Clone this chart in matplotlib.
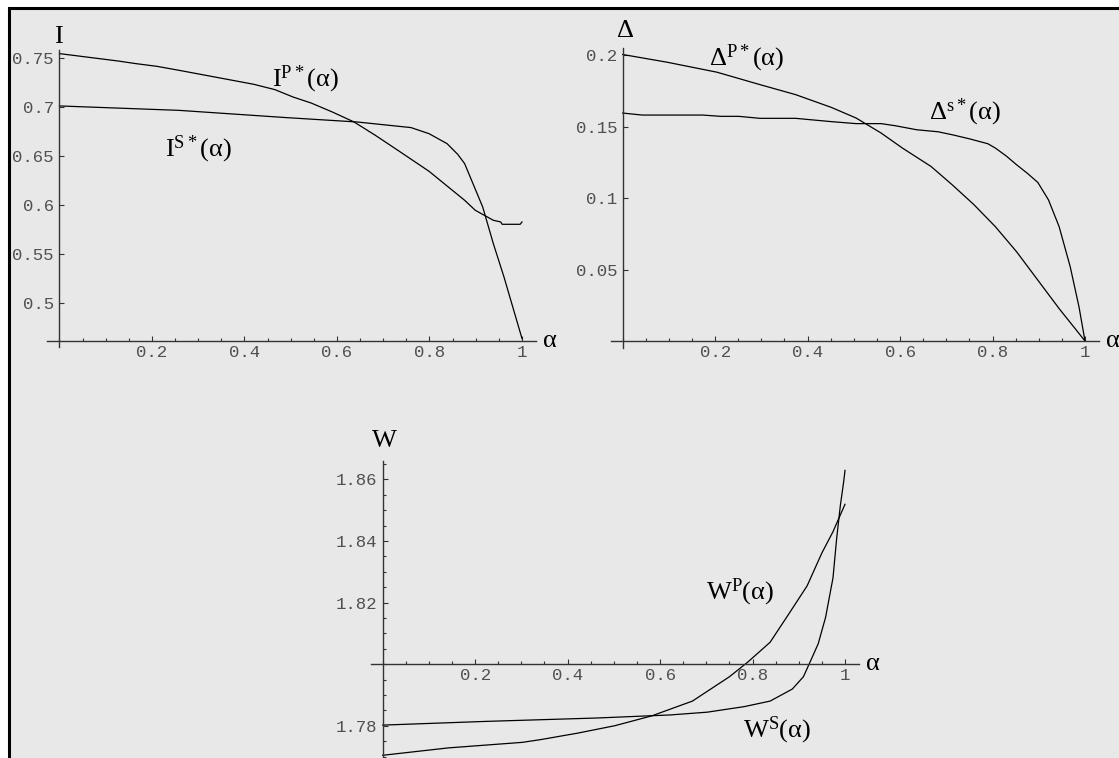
import matplotlib
matplotlib.use("Agg")
import matplotlib.pyplot as plt
from matplotlib.patches import Rectangle
from matplotlib.ticker import MultipleLocator, NullLocator

plt.rcParams['mathtext.fontset'] = 'custom'
plt.rcParams['mathtext.rm'] = 'Liberation Serif'
plt.rcParams['mathtext.it'] = 'Liberation Serif'
plt.rcParams['mathtext.bf'] = 'Liberation Serif'

# --- data ---
# I(alpha)
alpha_ip = [0, 0.126, 0.165, 0.211, 0.258, 0.335, 0.420, 0.466, 0.505, 0.544, 0.590,
            0.637, 0.683, 0.737, 0.799, 0.876, 0.899, 0.938, 0.954, 0.957, 0.996, 1.0]
i_p = [0.7548, 0.7473, 0.7446, 0.7418, 0.7378, 0.7310, 0.7235, 0.7180, 0.7105, 0.7044, 0.6952,
       0.6850, 0.6714, 0.6544, 0.6347, 0.6051, 0.5949, 0.5847, 0.5830, 0.5806, 0.5806, 0.5830]
alpha_is = [0, 0.258, 0.490, 0.644, 0.760, 0.799, 0.838, 0.861, 0.876, 0.915, 0.938, 0.961, 1.0]
i_s = [0.7014, 0.6969, 0.6895, 0.6850, 0.6793, 0.6731, 0.6629, 0.6520, 0.6425, 0.5983, 0.5609,
       0.5269, 0.4640]

# Delta(alpha)
alpha_dp = [0, 0.096, 0.204, 0.297, 0.374, 0.451, 0.505, 0.559, 0.605, 0.667, 0.713, 0.759,
            0.806, 0.852, 0.898, 0.944, 1.0]
d_p = [0.2006, 0.1952, 0.1882, 0.1795, 0.1725, 0.1636, 0.1561, 0.1456, 0.1351, 0.1222, 0.1093,
       0.0957, 0.0801, 0.0625, 0.0426, 0.0227, 0.0]
alpha_ds = [0, 0.042, 0.173, 0.212, 0.251, 0.297, 0.374, 0.451, 0.505, 0.559, 0.590, 0.636,
            0.682, 0.713, 0.752, 0.790, 0.806, 0.829, 0.852, 0.875, 0.898, 0.921, 0.944, 0.968,
            0.987, 1.0]
d_s = [0.1596, 0.1582, 0.1582, 0.1573, 0.1573, 0.1559, 0.1559, 0.1536, 0.1522, 0.1522, 0.1507,
       0.1479, 0.1465, 0.1444, 0.1414, 0.1381, 0.1351, 0.1297, 0.1234, 0.1175, 0.1110, 0.0988,
       0.0801, 0.0520, 0.0239, 0.0]

# W(alpha)
alpha_wp = [0, 0.142, 0.302, 0.342, 0.422, 0.502, 0.582, 0.670, 0.750, 0.790, 0.838, 0.878,
            0.918, 0.950, 0.974, 1.0]
w_p = [1.7704, 1.7728, 1.7746, 1.7755, 1.7776, 1.7800, 1.7832, 1.7880, 1.7959, 1.8007, 1.8071,
       1.8162, 1.8254, 1.8361, 1.8430, 1.8519]
alpha_ws = [0, 0.222, 0.462, 0.622, 0.702, 0.782, 0.838, 0.886, 0.910, 0.926, 0.942, 0.958,
            0.974, 0.982, 0.990, 0.997, 1.0]
w_s = [1.7802, 1.7814, 1.7825, 1.7835, 1.7844, 1.7862, 1.7880, 1.7919, 1.7959, 1.8012, 1.8066,
       1.8152, 1.8280, 1.8409, 1.8516, 1.8591, 1.8629]

x_ticks = [0.2, 0.4, 0.6, 0.8, 1.0]
x_labels = ['0.2', '0.4', '0.6', '0.8', '1']
i_ticks = [0.5, 0.55, 0.6, 0.65, 0.7, 0.75]
i_labels = ['0.5', '0.55', '0.6', '0.65', '0.7', '0.75']
d_ticks = [0.05, 0.1, 0.15, 0.2]
d_labels = ['0.05', '0.1', '0.15', '0.2']
w_ticks = [1.78, 1.82, 1.84, 1.86]
w_labels = ['1.78', '1.82', '1.84', '1.86']

W, H = 1119, 758
fig = plt.figure(figsize=(W / 100, H / 100), dpi=100)
fig.patch.set_facecolor('white')
fig.patches.append(Rectangle((8.5 / W, -0.1), 1.5, 1.1 - 8.5 / H, transform=fig.transFigure,
                             facecolor='#e8e8e8', edgecolor='black', lw=2.2, zorder=-5))

MONO = 'Liberation Mono'
SERIF = 'Liberation Serif'
AXC = '#333333'


def px_axes(left, top, right, bottom):
    ax = fig.add_axes([left / W, 1 - bottom / H, (right - left) / W, (bottom - top) / H])
    ax.patch.set_alpha(0)
    return ax


def style(ax, xlim, ylim, ycross, ybounds, yticks, ylabels, yminor=None):
    ax.set_xlim(*xlim)
    ax.set_ylim(*ylim)
    for s in ('top', 'right'):
        ax.spines[s].set_visible(False)
    ax.spines['bottom'].set_position(('data', ycross))
    ax.spines['left'].set_position(('data', 0))
    ax.spines['bottom'].set_bounds(-0.026, 1.03)
    ax.spines['left'].set_bounds(*ybounds)
    for s in ('bottom', 'left'):
        ax.spines[s].set_color(AXC)
        ax.spines[s].set_linewidth(1.0)
    ax.set_xticks(x_ticks, labels=x_labels)
    ax.set_yticks(yticks, labels=ylabels)
    ax.xaxis.set_minor_locator(MultipleLocator(0.05))
    if yminor:
        ax.yaxis.set_minor_locator(MultipleLocator(yminor))
    else:
        ax.yaxis.set_minor_locator(NullLocator())
    ax.tick_params(which='both', direction='in', color=AXC, width=0.8,
                   labelcolor='#505050', labelsize=12.5)
    ax.tick_params(which='major', length=3.8)
    ax.tick_params(which='minor', length=2.0)
    ax.tick_params(axis='x', pad=3)
    ax.tick_params(axis='y', pad=4)
    for lab in ax.get_xticklabels() + ax.get_yticklabels():
        lab.set_family(MONO)


LW = 0.9
FS = 19

# top-left: I
ax1 = px_axes(43.3, 44.6, 540.5, 350.3)
style(ax1, (-0.035, 1.04), (0.452, 0.764), 0.4619, (0.4555, 0.7585), i_ticks, i_labels)
ax1.plot(alpha_ip, i_p, color='black', lw=LW)
ax1.plot(alpha_is, i_s, color='black', lw=LW)
ax1.text(0.531, 0.729, r'$\mathrm{I}^{\mathrm{P*}}(\alpha)$', fontsize=FS, ha='center', va='center')
ax1.text(0.30, 0.657, r'$\mathrm{I}^{\mathrm{S*}}(\alpha)$', fontsize=FS, ha='center', va='center')
ax1.text(-0.003, 0.772, 'I', family=SERIF, fontsize=FS, ha='center', va='center', clip_on=False)
ax1.text(1.045, 0.4619, 'α', family=SERIF, fontsize=FS, ha='left', va='center', clip_on=False)

# top-right: Delta
ax2 = px_axes(606.5, 42.5, 1103.5, 351.0)
style(ax2, (-0.035, 1.04), (-0.007, 0.209), 0.0, (-0.005, 0.205), d_ticks, d_labels)
ax2.plot(alpha_dp, d_p, color='black', lw=LW)
ax2.plot(alpha_ds, d_s, color='black', lw=LW)
ax2.text(0.267, 0.198, r'$\Delta^{\mathrm{P*}}(\alpha)$', fontsize=FS, ha='center', va='center')
ax2.text(0.740, 0.160, r'$\Delta^{\mathrm{s*}}(\alpha)$', fontsize=FS, ha='center', va='center')
ax2.text(0.007, 0.217, 'Δ', family=SERIF, fontsize=FS, ha='center', va='center', clip_on=False)
ax2.text(1.046, 0.0, 'α', family=SERIF, fontsize=FS, ha='left', va='center', clip_on=False)

# bottom: W
ax3 = px_axes(366.5, 454.7, 863.5, 759.6)
style(ax3, (-0.035, 1.04), (1.769, 1.868), 1.80, (1.769, 1.866), w_ticks, w_labels, 0.005)
ax3.plot(alpha_wp, w_p, color='black', lw=LW)
ax3.plot(alpha_ws, w_s, color='black', lw=LW)
ax3.text(0.773, 1.8234, r'$\mathrm{W}^{\mathrm{P}}(\alpha)$', fontsize=FS, ha='center', va='center')
ax3.text(0.853, 1.7786, r'$\mathrm{W}^{\mathrm{S}}(\alpha)$', fontsize=FS, ha='center', va='center')
ax3.text(0.003, 1.8725, 'W', family=SERIF, fontsize=FS, ha='center', va='center', clip_on=False)
ax3.text(1.045, 1.80, 'α', family=SERIF, fontsize=FS, ha='left', va='center', clip_on=False)

fig.savefig('out.png', dpi=100)
